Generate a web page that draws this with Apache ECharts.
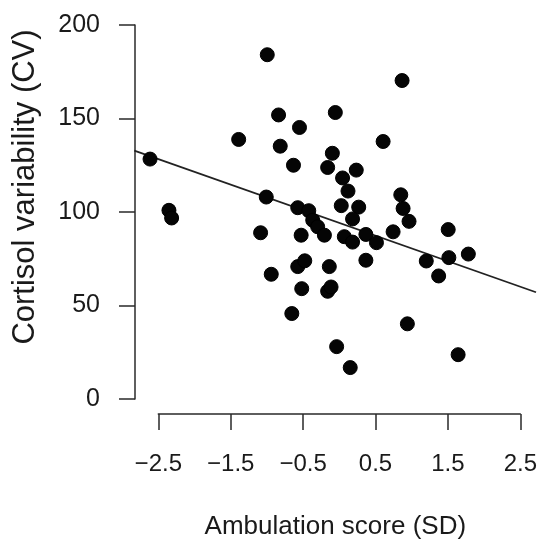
<!DOCTYPE html>
<html>
<head>
<meta charset="utf-8">
<script src="https://cdn.jsdelivr.net/npm/echarts@6/dist/echarts.min.js"></script>
<style>
  html, body { margin: 0; padding: 0; background: #fff; }
  #chart { width: 540px; height: 545px; }
</style>
</head>
<body>
<div id="chart"></div>
<script>
// Ambulation score (SD) and cortisol variability (CV) per participant
const ambulation = [
  -2.614, -2.353, -2.316, -1.390, -0.995, -1.009, -0.839, -0.550, -0.816, -0.633,
  -1.087, -0.940, -0.656, -0.574, -0.422, -0.367, -0.299, -0.206, -0.527, -0.574,
  -0.477, -0.519, -0.161, -0.096, -0.055, 0.045, 0.120, 0.234, 0.027, 0.268,
  0.183, 0.069, 0.183, 0.367, 0.513, 0.367, -0.138, -0.161, -0.114, -0.037,
  0.151, 0.605, 0.867, 0.849, 0.881, 0.963, 0.743, 0.940, 1.201, 1.504,
  1.513, 1.782, 1.372, 1.641
];
const cortisol = [
  128.3, 100.9, 96.8, 138.8, 184.1, 108.0, 151.9, 145.2, 135.2, 125.0,
  88.9, 66.7, 45.7, 102.3, 100.7, 95.6, 92.1, 87.6, 87.6, 70.8,
  73.9, 59.0, 123.8, 131.4, 153.2, 118.2, 111.2, 122.4, 103.4, 102.6,
  96.3, 86.8, 83.9, 88.0, 83.6, 74.2, 70.8, 57.6, 59.9, 28.0,
  16.8, 137.7, 170.3, 109.2, 101.9, 95.0, 89.4, 40.2, 73.8, 90.6,
  75.6, 77.5, 65.8, 23.7
];

// Fitted regression line, drawn across the full plotting region
const fitX = [-2.83, 2.697];
const fitY = [133.3, 58.1];

// Axis ticks
const xTicks = [-2.5, -1.5, -0.5, 0.5, 1.5, 2.5];
const xTickLabels = ['\u22122.5', '\u22121.5', '\u22120.5', '0.5', '1.5', '2.5'];
const yTicks = [0, 50, 100, 150, 200];

const points = ambulation.map((x, i) => [x, cortisol[i]]);
const fitLine = fitX.map((x, i) => [x, fitY[i]]);

const ink = '#1a1a1a';
const font = '"Liberation Sans", Arial, sans-serif';
const axisColor = '#2a2a2a';

const chart = echarts.init(document.getElementById('chart'), null, { renderer: 'canvas' });
chart.setOption({
  backgroundColor: '#ffffff',
  animation: false,
  grid: [
    // axes span only from the first to the last tick
    { left: 158.3, right: 18.3, top: 25, bottom: 143.3, containLabel: false },
    // wider region in which the fitted line runs edge to edge
    { left: 134.3, right: 4, top: 25, bottom: 143.3, containLabel: false }
  ],
  xAxis: [
    {
      gridIndex: 0,
      type: 'value',
      min: xTicks[0],
      max: xTicks[xTicks.length - 1],
      interval: 1,
      offset: 15,
      name: 'Ambulation score (SD)',
      nameLocation: 'middle',
      nameGap: 100,
      nameTextStyle: { color: ink, fontSize: 26, fontFamily: font, padding: [0, 8, 0, 0] },
      axisLine: { show: true, onZero: false, lineStyle: { color: axisColor, width: 1.5 } },
      axisTick: { show: true, inside: false, length: 16, lineStyle: { color: axisColor, width: 1.5 } },
      axisLabel: {
        color: ink, fontSize: 24, fontFamily: font, margin: 38,
        formatter: v => {
          const i = xTicks.findIndex(t => Math.abs(t - v) < 1e-6);
          return i >= 0 ? xTickLabels[i] : '';
        }
      },
      splitLine: { show: false }
    },
    {
      gridIndex: 1,
      type: 'value',
      min: fitX[0],
      max: fitX[fitX.length - 1],
      show: false
    }
  ],
  yAxis: [
    {
      gridIndex: 0,
      type: 'value',
      min: yTicks[0],
      max: yTicks[yTicks.length - 1],
      interval: 50,
      offset: 23.3,
      name: 'Cortisol variability (CV)',
      nameLocation: 'middle',
      nameGap: 94,
      nameTextStyle: { color: ink, fontSize: 31, fontFamily: font, padding: [0, 0, 0, 50] },
      axisLine: { show: true, onZero: false, lineStyle: { color: axisColor, width: 1.5 } },
      axisTick: { show: true, inside: false, length: 16, lineStyle: { color: axisColor, width: 1.5 } },
      axisLabel: { color: ink, fontSize: 25, fontFamily: font, margin: 35 },
      splitLine: { show: false }
    },
    {
      gridIndex: 1,
      type: 'value',
      min: yTicks[0],
      max: yTicks[yTicks.length - 1],
      show: false
    }
  ],
  series: [
    {
      type: 'line',
      xAxisIndex: 1,
      yAxisIndex: 1,
      data: fitLine,
      symbol: 'none',
      silent: true,
      lineStyle: { color: '#222', width: 1.8 },
      z: 2
    },
    {
      type: 'scatter',
      xAxisIndex: 0,
      yAxisIndex: 0,
      data: points,
      symbol: 'circle',
      symbolSize: 14,
      clip: false,
      itemStyle: { color: '#050505', borderColor: '#000', borderWidth: 1, opacity: 1 },
      z: 3
    }
  ]
});
</script>
</body>
</html>
